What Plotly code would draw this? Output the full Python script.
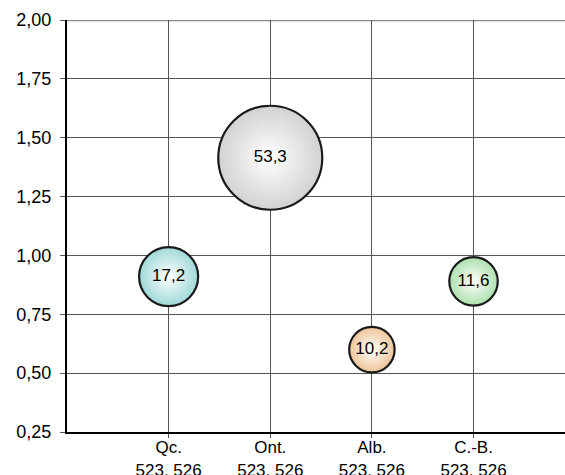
import plotly.graph_objects as go

categories = ["Qc.", "Ont.", "Alb.", "C.-B."]
sublabels = ["523, 526", "523, 526", "523, 526", "523, 526"]
y_values = [0.91, 1.415, 0.60, 0.89]
bubble_sizes = [17.2, 53.3, 10.2, 11.6]
bubble_labels = ["17,2", "53,3", "10,2", "11,6"]
edge_colors = ["#9fd8d8", "#d2d2d2", "#eec597", "#ade0ad"]
y_ticks = [0.25, 0.50, 0.75, 1.00, 1.25, 1.50, 1.75, 2.00]
y_tick_labels = ["0,25", "0,50", "0,75", "1,00", "1,25", "1,50", "1,75", "2,00"]

x_pos = list(range(1, len(categories) + 1))
max_diam = 104
sizeref = 2.0 * max(bubble_sizes) / (max_diam ** 2)

FONT = "Liberation Sans, Arial, sans-serif"

fig = go.Figure()
fig.add_trace(go.Scatter(
    x=x_pos, y=y_values, mode="markers+text",
    text=bubble_labels, textposition="middle center",
    textfont=dict(family=FONT, size=17, color="black"),
    marker=dict(
        size=bubble_sizes, sizemode="area", sizeref=sizeref,
        color=edge_colors,
        gradient=dict(type="radial", color="white"),
        line=dict(color="#1a1a1a", width=2.2),
        opacity=1,
    ),
    showlegend=False, hoverinfo="skip",
))

fig.add_shape(type="line", xref="paper", yref="y", x0=0, x1=1, y0=2.0, y1=2.0,
              line=dict(color="#8a8a8a", width=2.5), layer="below")

fig.update_layout(
    width=565, height=475,
    margin=dict(l=67, r=0, t=20, b=43),
    paper_bgcolor="white", plot_bgcolor="white",
    font=dict(family=FONT, size=17, color="black"),
    xaxis=dict(
        range=[0, 4.9], tickmode="array", tickvals=x_pos,
        ticktext=[f"{c}<br>{s}" for c, s in zip(categories, sublabels)],
        showgrid=True, gridcolor="#555555", gridwidth=1,
        showline=True, linecolor="black", linewidth=2,
        ticks="outside", ticklen=4, tickcolor="#555555",
        zeroline=False, tickfont=dict(size=17), automargin=False,
        ticklabelstandoff=-5,
    ),
    yaxis=dict(
        range=[0.25, 2.0], tickmode="array", tickvals=y_ticks, ticktext=y_tick_labels,
        showgrid=True, gridcolor="#555555", gridwidth=1,
        showline=True, linecolor="black", linewidth=2,
        ticks="outside", ticklen=5, tickcolor="#555555",
        zeroline=False, tickfont=dict(size=18), automargin=False,
        ticklabelstandoff=5,
    ),
)

fig.write_html(
    "out.html",
    config={"displayModeBar": False},
    post_script="document.body.style.margin='0';document.body.style.overflow='hidden';",
)
